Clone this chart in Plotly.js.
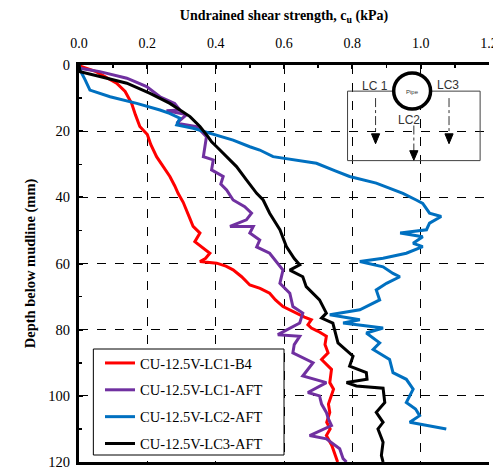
<!DOCTYPE html>
<html><head><meta charset="utf-8">
<script src="https://cdn.plot.ly/plotly-3.0.1.min.js"></script>
<style>html,body{margin:0;padding:0;background:#fff}#chart{width:493px;height:469px}</style>
</head><body><div id="chart"></div>
<script>
const seriesNames = ["CU-12.5V-LC1-B4","CU-12.5V-LC1-AFT","CU-12.5V-LC2-AFT","CU-12.5V-LC3-AFT"];
const seriesColors = ["#FF0000","#7030A0","#0070C0","#000000"];

const lc1b4_cu = [0,0.008,0.05,0.11,0.135,0.154,0.165,0.178,0.2,0.21,0.227,0.245,0.266,0.28,0.29,0.305,0.315,0.325,0.334,0.354,0.339,0.36,0.383,0.37,0.354,0.403,0.43,0.451,0.476,0.5,0.53,0.558,0.575,0.597,0.636,0.66,0.68,0.67,0.68,0.7,0.724,0.72,0.729,0.71,0.739,0.734,0.745,0.739,0.73,0.734,0.725,0.735,0.724,0.74,0.749,0.757];
const lc1b4_d  = [0,0.5,2,5.5,8,11.6,15,18.6,21,24,27.7,30.5,33.7,36.5,38.8,41.5,43.8,46.5,48.8,50.8,53.4,55,56.9,58.5,59.4,59.9,60.8,61.9,64,66.5,67.5,69,71,73,75,76.2,77,78.5,79.5,80.5,82,84.5,87,89,92,96,98,100,102.5,105,108,110,112,115,118,120];

const lc1aft_cu = [0,0.003,0.061,0.14,0.198,0.237,0.28,0.295,0.256,0.315,0.286,0.344,0.373,0.37,0.364,0.393,0.388,0.422,0.415,0.432,0.451,0.485,0.505,0.49,0.442,0.51,0.5,0.529,0.52,0.558,0.575,0.597,0.588,0.617,0.626,0.655,0.646,0.582,0.646,0.63,0.626,0.685,0.655,0.724,0.67,0.704,0.71,0.724,0.73,0.739,0.675,0.724,0.763,0.773,0.783];
const lc1aft_d  = [0,1,2,4,6.5,9.6,11.6,13.6,13.8,15,17.6,18.6,21.7,24,27.7,28.7,31.7,33.7,36,37.8,40.8,42.8,44.8,46.8,48.8,48.8,50.8,52.9,55,56.9,59,62,66,69,73,75,78,81.5,82,84.5,87,90,94,96,99,100,102.5,105,107,109,112,113,116,119,120];

const lc2aft_cu = [0,0.003,0.018,0.032,0.091,0.169,0.237,0.265,0.295,0.286,0.334,0.383,0.451,0.5,0.529,0.568,0.695,0.75,0.792,0.87,0.948,0.987,1.006,1.026,1.06,1.026,1.017,0.94,1.006,0.978,1.006,0.958,0.89,0.822,0.89,0.919,0.939,0.9,0.87,0.88,0.822,0.734,0.822,0.773,0.89,0.841,0.88,0.861,0.909,0.919,0.958,0.978,0.958,0.985,0.997,0.968,1.017,1.075];
const lc2aft_d  = [0,1.5,4.5,7.6,9.6,11.6,13.6,14.6,16.1,18.1,19.1,20.6,22.7,24.7,25.7,27.7,29.7,32,33.7,35.7,38.8,40.8,41.8,44.8,45.8,47.8,49.8,50.8,51.9,53.9,54.9,56.9,58.4,59.4,61,63,64,66,68,71,74,75.5,77,78,79.5,81,84,86,89,93,95,98,102,104,106,108,109,110];

const lc3aft_cu = [0,0.003,0.061,0.14,0.208,0.266,0.325,0.354,0.378,0.388,0.403,0.432,0.461,0.49,0.52,0.539,0.558,0.588,0.607,0.63,0.646,0.617,0.646,0.655,0.665,0.704,0.724,0.71,0.743,0.75,0.758,0.802,0.792,0.841,0.843,0.783,0.812,0.89,0.895,0.87,0.89,0.875,0.89,0.885,0.89];
const lc3aft_d  = [0,2,3.5,5.5,8.6,11.6,15.6,18.6,21.7,23.2,24.7,27.7,30.7,34.7,38.8,40.8,44.8,49.8,54.9,58.5,60.4,62,63.5,64,67,71,75,76.5,78,81,84,88,91,93,95,96,97,97.7,102,105,108,110,114,118,120];

const xs = [lc1b4_cu, lc1aft_cu, lc2aft_cu, lc3aft_cu];
const ys = [lc1b4_d, lc1aft_d, lc2aft_d, lc3aft_d];

const traces = seriesNames.map((n,i)=>({
  type:'scatter', mode:'lines', name:n, x:xs[i], y:ys[i],
  line:{color:seriesColors[i], width:3}, legendgroup:'g'+i
}));

const serif = 'Liberation Serif';
const sans = 'Liberation Sans';

// inset diagram (drawn in axis units) + legend frame (paper units)
const shapes = [
  {type:'rect', xref:'x', yref:'y', x0:0.786, x1:1.174, y0:7.9, y1:28.9, line:{color:'#404040', width:1}, fillcolor:'rgba(255,255,255,0)'},
  {type:'line', xref:'x', yref:'y', x0:0.868, x1:0.868, y0:10, y1:21, line:{color:'#333', width:1, dash:'dashdot'}},
  {type:'path', xref:'x', yref:'y', path:'M 0.856 20.8 L 0.880 20.8 L 0.868 23.8 Z', fillcolor:'#000', line:{color:'#000', width:1}},
  {type:'line', xref:'x', yref:'y', x0:0.98, x1:0.98, y0:18.3, y1:26, line:{color:'#333', width:1, dash:'dashdot'}},
  {type:'path', xref:'x', yref:'y', path:'M 0.968 25.9 L 0.992 25.9 L 0.98 28.8 Z', fillcolor:'#000', line:{color:'#000', width:1}},
  {type:'line', xref:'x', yref:'y', x0:1.083, x1:1.083, y0:10, y1:21, line:{color:'#333', width:1, dash:'dashdot'}},
  {type:'path', xref:'x', yref:'y', path:'M 1.071 20.8 L 1.095 20.8 L 1.083 23.8 Z', fillcolor:'#000', line:{color:'#000', width:1}},
  {type:'circle', xref:'x', yref:'y', x0:0.921, x1:1.029, y0:2.4, y1:13.3, fillcolor:'#fff', line:{color:'#000', width:3.5}},
  {type:'rect', xref:'paper', yref:'paper', x0:0.035, x1:0.5, y0:0.0176, y1:0.2846, layer:'above', fillcolor:'#fff', line:{color:'#000', width:1}}
];

const annotations = [
  {x:0.866, y:6.3, xref:'x', yref:'y', text:'LC 1', showarrow:false, font:{family:sans, size:12, color:'#333'}},
  {x:1.08, y:6.0, xref:'x', yref:'y', text:'LC3', showarrow:false, font:{family:sans, size:12, color:'#333'}},
  {x:0.966, y:16.6, xref:'x', yref:'y', text:'LC2', showarrow:false, font:{family:sans, size:12, color:'#333'}},
  {x:0.977, y:8.3, xref:'x', yref:'y', text:'Pipe', showarrow:false, font:{family:sans, size:6, color:'#333'}}
];

const layout = {
  width:493, height:469,
  margin:{l:79, r:4, t:65, b:7},
  paper_bgcolor:'#fff', plot_bgcolor:'#fff',
  showlegend:true,
  font:{family:serif, size:14, color:'#000'},
  xaxis:{
    side:'top', range:[0,1.2], dtick:0.2, tick0:0, tickformat:'.1f',
    showline:true, linecolor:'#000', linewidth:3, mirror:true,
    ticks:'inside', ticklen:4, tickwidth:2, tickcolor:'#000',
    minor:{dtick:0.1, ticks:'inside', ticklen:3, tickwidth:1.5, tickcolor:'#000', showgrid:false},
    showgrid:true, gridcolor:'#000', gridwidth:1, griddash:'dash',
    zeroline:false, tickfont:{family:serif, size:14}, ticklabeloverflow:'allow', ticklabelstandoff:8,
    title:{text:'<b>Undrained shear strength, c<sub>u</sub> (kPa)</b>', font:{family:serif, size:14}, standoff:13}
  },
  yaxis:{
    range:[120,0], dtick:20, tick0:0,
    showline:true, linecolor:'#000', linewidth:3,
    ticks:'inside', ticklen:4, tickwidth:2, tickcolor:'#000',
    minor:{dtick:10, ticks:'inside', ticklen:3, tickwidth:1.5, tickcolor:'#000', showgrid:false},
    showgrid:true, gridcolor:'#000', gridwidth:1, griddash:'dash',
    zeroline:false, tickfont:{family:serif, size:14.5}, ticklabeloverflow:'allow', ticklabelstandoff:3,
    title:{text:'<b>Depth below mudline (mm)</b>', font:{family:serif, size:14.5}, standoff:10}
  },
  legend:{
    x:0.0512, y:0.2896, xanchor:'left', yanchor:'top',
    bgcolor:'rgba(0,0,0,0)', borderwidth:0,
    font:{family:serif, size:14.5}, tracegroupgap:5, itemwidth:30
  },
  shapes:shapes, annotations:annotations
};

Plotly.newPlot('chart', traces, layout, {displayModeBar:false, staticPlot:true});
</script></body></html>
